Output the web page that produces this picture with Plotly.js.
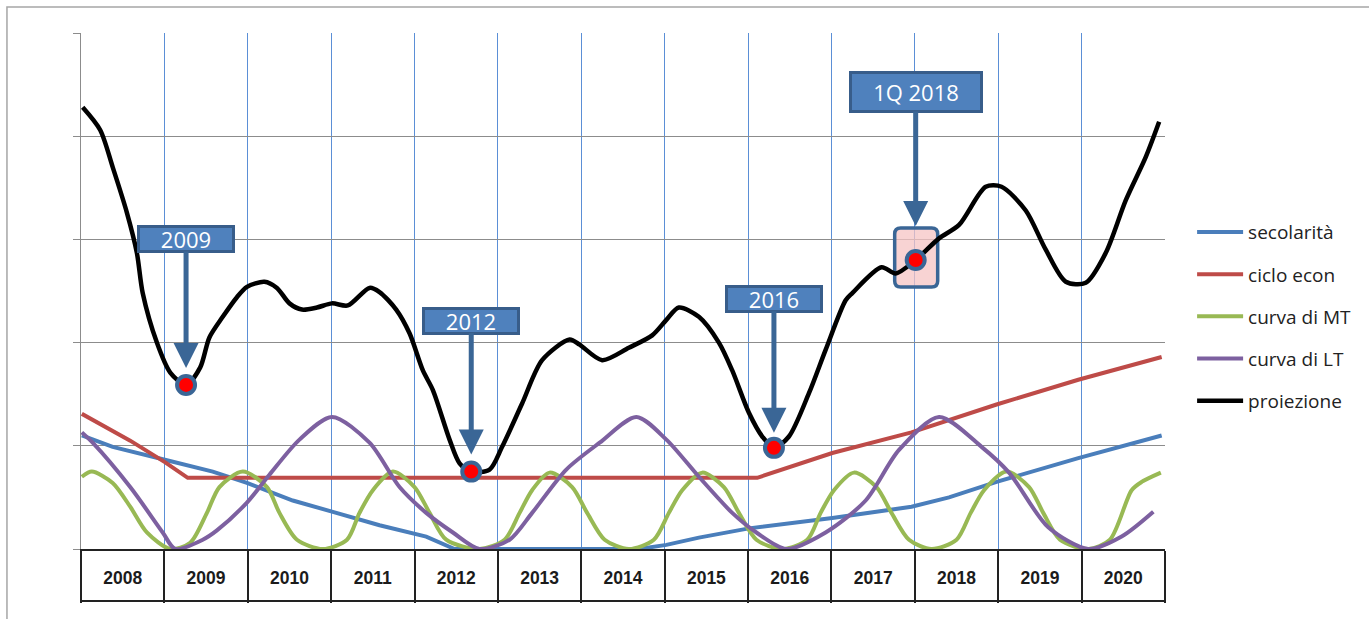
<!DOCTYPE html>
<html>
<head>
<meta charset="utf-8">
<script src="https://cdn.plot.ly/plotly-3.0.1.min.js"></script>
<style>html,body{margin:0;padding:0;background:#fff;}#chart{width:1369px;height:619px;}</style>
</head>
<body>
<div id="chart"></div>
<script>
// ---- data (x in years, y in chart units 0..5) ----
const yearLabels = ['2008','2009','2010','2011','2012','2013','2014','2015','2016','2017','2018','2019','2020'];

const secName = 'secolarità';
const secYears  = [2008.01, 2008.38, 2009.03, 2009.58, 2009.99, 2010.54, 2011.02, 2011.58, 2012.14, 2012.48, 2013.50, 2014.69, 2015.02, 2015.41, 2016.01, 2017.01, 2017.96, 2018.41, 2018.98, 2019.96, 2020.96];
const secValues = [1.10, 0.99, 0.86, 0.75, 0.64, 0.47, 0.36, 0.23, 0.12, 0.00, 0.00, 0.00, 0.04, 0.11, 0.20, 0.30, 0.41, 0.50, 0.65, 0.88, 1.10];

const ecoName = 'ciclo econ';
const ecoYears  = [2008.01, 2008.23, 2008.59, 2009.01, 2009.28, 2016.11, 2016.22, 2016.61, 2017.01, 2017.96, 2018.98, 2019.96, 2020.96];
const ecoValues = [1.31, 1.21, 1.05, 0.84, 0.69, 0.69, 0.72, 0.82, 0.93, 1.13, 1.40, 1.64, 1.86];

const mtName = 'curva di MT';
const mtYears  = [2008.01, 2008.13, 2008.38, 2008.59, 2008.79, 2009.07,
                  2009.31, 2009.51, 2009.66, 2009.94, 2010.23, 2010.38, 2010.59, 2010.90,
                  2011.19, 2011.34, 2011.50, 2011.74, 2012.00, 2012.18, 2012.38, 2012.78,
                  2013.08, 2013.26, 2013.41, 2013.62, 2013.89, 2014.07, 2014.28, 2014.57,
                  2014.87, 2015.05, 2015.21, 2015.45, 2015.71, 2015.89, 2016.10, 2016.41,
                  2016.71, 2016.87, 2017.03, 2017.27, 2017.54, 2017.72, 2017.93, 2018.20,
                  2018.50, 2018.67, 2018.83, 2019.10, 2019.37, 2019.54, 2019.74, 2020.08,
                  2020.34, 2020.60, 2020.72, 2020.95];
const mtValues = [0.70, 0.75, 0.64, 0.41, 0.16, 0.00,
                  0.06, 0.35, 0.60, 0.75, 0.60, 0.35, 0.09, 0.00,
                  0.09, 0.35, 0.57, 0.75, 0.60, 0.35, 0.09, 0.00,
                  0.09, 0.35, 0.57, 0.74, 0.60, 0.35, 0.09, 0.00,
                  0.09, 0.35, 0.57, 0.74, 0.60, 0.35, 0.09, 0.00,
                  0.09, 0.35, 0.57, 0.74, 0.60, 0.35, 0.09, 0.00,
                  0.09, 0.35, 0.57, 0.75, 0.60, 0.35, 0.09, 0.00,
                  0.09, 0.57, 0.65, 0.74];

const ltName = 'curva di LT';
const ltYears  = [2008.01, 2008.14, 2008.59, 2008.98, 2009.13, 2009.46, 2009.63, 2009.99, 2010.26, 2010.62,
                  2011.01, 2011.46, 2011.82, 2012.14, 2012.46, 2012.78, 2013.14, 2013.41, 2013.82, 2014.22,
                  2014.66, 2015.02, 2015.41, 2015.81, 2016.10, 2016.46, 2016.93, 2017.41, 2017.81, 2018.29,
                  2018.80, 2019.13, 2019.60, 2020.08, 2020.48, 2020.86];
const ltValues = [1.13, 1.03, 0.60, 0.16, 0.00, 0.09, 0.18, 0.45, 0.72, 1.06,
                  1.28, 1.03, 0.60, 0.35, 0.16, 0.00, 0.09, 0.35, 0.77, 1.03,
                  1.28, 1.06, 0.70, 0.35, 0.16, 0.00, 0.16, 0.47, 0.96, 1.28,
                  0.99, 0.74, 0.21, 0.00, 0.12, 0.36];

const projName = 'proiezione';
const projYears  = [2008.02, 2008.23, 2008.38, 2008.55, 2008.67, 2008.74, 2008.91, 2009.07, 2009.26, 2009.43,
                    2009.54, 2009.70, 2009.87, 2009.99, 2010.20, 2010.35, 2010.50, 2010.65, 2010.83, 2011.01,
                    2011.20, 2011.46, 2011.58, 2011.78, 2011.94, 2012.10, 2012.22, 2012.42, 2012.54, 2012.68,
                    2012.90, 2013.05, 2013.29, 2013.53, 2013.86, 2013.98, 2014.25, 2014.57, 2014.85, 2015.02,
                    2015.17, 2015.41, 2015.65, 2015.81, 2016.01, 2016.17, 2016.31, 2016.49, 2016.73, 2016.93,
                    2017.17, 2017.25, 2017.60, 2017.77, 2018.01, 2018.29, 2018.53, 2018.85, 2019.04, 2019.33,
                    2019.57, 2019.81, 2020.05, 2020.29, 2020.53, 2020.77, 2020.93];
const projValues = [4.28, 4.06, 3.70, 3.26, 2.87, 2.48, 2.00, 1.71, 1.59, 1.76,
                    2.05, 2.25, 2.44, 2.54, 2.59, 2.53, 2.38, 2.32, 2.34, 2.38,
                    2.36, 2.53, 2.49, 2.32, 2.09, 1.73, 1.54, 1.06, 0.83, 0.75,
                    0.77, 0.99, 1.41, 1.83, 2.03, 1.98, 1.83, 1.95, 2.07, 2.22,
                    2.34, 2.25, 2.00, 1.73, 1.32, 1.09, 0.98, 1.09, 1.51, 1.93,
                    2.41, 2.48, 2.73, 2.67, 2.80, 3.01, 3.14, 3.51, 3.51, 3.28,
                    2.90, 2.59, 2.58, 2.87, 3.38, 3.80, 4.14];

const dotLabels = ['2009', '2012', '2016', '1Q 2018'];
const dotYears  = [2009.26, 2012.68, 2016.31, 2018.01];
const dotValues = [1.59, 0.75, 0.98, 2.80];

// ---- styling ----
const colors = {sec:'#4A7EBB', eco:'#BE4B48', mt:'#98B954', lt:'#7D60A0', proj:'#000000'};
const tickCenters = yearLabels.map((_, i) => 2008.5 + i);

function lineTrace(name, xs, ys, color, shape, width, group) {
  return {type:'scatter', mode:'lines', name:name, x:xs, y:ys, legendgroup:group,
          line:{color:color, width:width, shape:shape, smoothing:0.8}, hoverinfo:'skip'};
}

const traces = [
  lineTrace(secName, secYears, secValues, colors.sec, 'linear', 4, 'g1'),
  lineTrace(ecoName, ecoYears, ecoValues, colors.eco, 'linear', 4, 'g2'),
  lineTrace(mtName, mtYears, mtValues, colors.mt, 'spline', 4, 'g3'),
  lineTrace(ltName, ltYears, ltValues, colors.lt, 'spline', 4, 'g4'),
  lineTrace(projName, projYears, projValues, colors.proj, 'spline', 4.5, 'g5'),
  {type:'scatter', mode:'markers', x:dotYears, y:dotValues, showlegend:false, hoverinfo:'skip',
   marker:{size:18, color:'#FF0000', line:{color:'#3A6696', width:4}}},
  {type:'scatter', mode:'markers', x:tickCenters, y:tickCenters.map(() => null), xaxis:'x2',
   showlegend:false, hoverinfo:'skip', marker:{opacity:0}}
];

const boxW = [92, 92, 92, 128];
const boxH = [22, 22, 22, 36];
const boxAy = [-146, -151, -149, -168];
const boxStand = [17, 17, 15, 34];

const annotations = dotLabels.map((t, i) => ({
  x: dotYears[i], y: dotValues[i], xref:'x', yref:'y', text:t,
  showarrow:true, ax:0, ay:boxAy[i], arrowcolor:'#3A6696', arrowwidth:5, arrowhead:2, arrowsize:1,
  standoff:boxStand[i], bgcolor:'#4F81BD', bordercolor:'#385D8A', borderwidth:3, borderpad:0,
  width:boxW[i], height:boxH[i], font:{family:'Open Sans, sans-serif', size:22, color:'#ffffff'}
}));

const shapes = [
  // outer frame
  {type:'rect', xref:'paper', yref:'paper', x0:-0.0683, x1:1.25, y0:-0.25, y1:1.0504,
   line:{color:'#A6A6A6', width:1.5}, fillcolor:'rgba(0,0,0,0)', layer:'below'},
  // bottom line of year table
  {type:'line', xref:'paper', yref:'paper', x0:0, x1:1, y0:-0.1008, y1:-0.1008,
   line:{color:'#222222', width:2}},
  // rounded highlight box around 1Q 2018 point
  {type:'path', xref:'x', yref:'y', xsizemode:'pixel', ysizemode:'pixel',
   xanchor:dotYears[3], yanchor:dotValues[3], layer:'between',
   path:'M -15 -27 L 16 -27 Q 22 -27 22 -21 L 22 26 Q 22 32 16 32 L -15 32 Q -21 32 -21 26 L -21 -21 Q -21 -27 -15 -27 Z',
   fillcolor:'rgba(246,196,196,0.75)', line:{color:'#3A6696', width:3.5}}
];

const layout = {
  width:1369, height:619,
  margin:{l:81, r:204, t:33, b:70},
  paper_bgcolor:'#ffffff', plot_bgcolor:'#ffffff',
  showlegend:true,
  legend:{x:1.025, y:0.651, xanchor:'left', yanchor:'top', traceorder:'grouped', tracegroupgap:14.5,
          font:{family:'Open Sans, sans-serif', size:19, color:'#222222'}, itemwidth:46,
          bgcolor:'rgba(0,0,0,0)'},
  xaxis:{range:[2008, 2021], tick0:2008, dtick:1, showgrid:true, gridcolor:'#5B8FD6', gridwidth:1,
         ticks:'outside', ticklen:52, tickwidth:2, tickcolor:'#222222', showticklabels:false,
         showline:true, linecolor:'#222222', linewidth:2, zeroline:false, fixedrange:true},
  xaxis2:{overlaying:'x', anchor:'y', side:'bottom', range:[2008, 2021], tickmode:'array',
          tickvals:tickCenters, ticktext:yearLabels, ticks:'outside', ticklen:13,
          tickcolor:'rgba(0,0,0,0)', showgrid:false, zeroline:false, showline:false,
          tickfont:{family:'Liberation Sans, Arial, sans-serif', size:17.5, color:'#1b1b1b', weight:'bold'}},
  yaxis:{range:[0, 5], dtick:1, tick0:0, showgrid:true, gridcolor:'#8C8C8C', gridwidth:1,
         showticklabels:false, ticks:'outside', ticklen:7, tickcolor:'#8C8C8C',
         showline:true, linecolor:'#8C8C8C', linewidth:1.5, zeroline:false, fixedrange:true},
  annotations:annotations,
  shapes:shapes
};

Plotly.newPlot('chart', traces, layout, {displayModeBar:false, staticPlot:true});
</script>
</body>
</html>
